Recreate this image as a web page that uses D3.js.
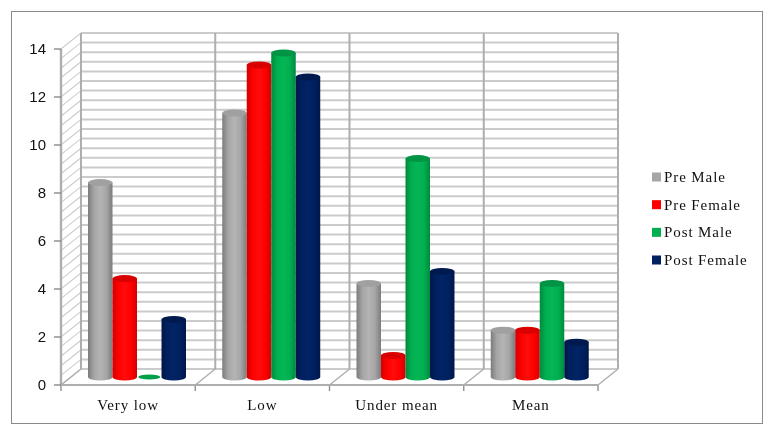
<!DOCTYPE html>
<html><head><meta charset="utf-8">
<script src="https://cdn.jsdelivr.net/npm/d3@7/dist/d3.min.js"></script>
<style>html,body{margin:0;padding:0;background:#fff}svg{display:block}</style>
</head><body><svg id="c" width="768" height="433"></svg>
<script>
const categories = ["Very low","Low","Under mean","Mean"];
const seriesNames = ["Pre Male","Pre Female","Post Male","Post Female"];
const preMale = [8.1,11,3.9,1.95];
const preFemale = [4.1,13,0.9,1.95];
const postMale = [0,13.5,9.1,3.9];
const postFemale = [2.4,12.5,4.4,1.45];
const seriesValues = [preMale,preFemale,postMale,postFemale];
const yTicks = [0,2,4,6,8,10,12,14];
const gridStep = 0.4;
const colors = [
  {base:"#a6a6a6",dark:"#7c7c7c",light:"#b4b4b4",top:"#a0a0a0"},
  {base:"#ff0000",dark:"#d40000",light:"#ff0c0c",top:"#d80000"},
  {base:"#00b050",dark:"#008a3e",light:"#06b656",top:"#009444"},
  {base:"#002060",dark:"#001848",light:"#022464",top:"#001a50"}
];
const svg = d3.select("#c");
const depth = {x:20,y:-16};
const y = d3.scaleLinear().domain([0,14]).range([385,49]);
const x = d3.scaleBand().domain(categories).range([61,598]);
const xs = d3.scaleBand().domain(seriesNames).range([27,125]);
const gridColor = "#cbcbcb", wallColor="#aeaeae";
svg.append("rect").attr("x",11.5).attr("y",11.5).attr("width",751).attr("height",412).attr("fill","#fff").attr("stroke","#8a8a8a");
const defs = svg.append("defs");
colors.forEach((c,i)=>{
  const g = defs.append("linearGradient").attr("id","g"+i);
  [[0,c.dark],[0.25,c.base],[0.5,c.light],[0.75,c.base],[1,c.dark]].forEach(s=>g.append("stop").attr("offset",s[0]).attr("stop-color",s[1]));
});
const root = svg.append("g").style("filter","blur(0.5px)");
const grid = d3.range(0,36).map(i=>i*gridStep);
const wall = root.append("g").attr("fill","none");
grid.forEach(v=>{
  wall.append("line").attr("x1",61).attr("y1",y(v)).attr("x2",61+depth.x).attr("y2",y(v)+depth.y).attr("stroke",gridColor).attr("stroke-width",1.1);
  wall.append("line").attr("x1",61+depth.x).attr("y1",y(v)+depth.y).attr("x2",598+depth.x).attr("y2",y(v)+depth.y).attr("stroke",gridColor).attr("stroke-width",2);
});
const edges = categories.map(c=>x(c)).concat([598]);
edges.forEach((e,i)=>{
  wall.append("line").attr("x1",e+depth.x).attr("y1",y(0)+depth.y).attr("x2",e+depth.x).attr("y2",y(14)+depth.y).attr("stroke",wallColor).attr("stroke-width",2);
  wall.append("line").attr("x1",e).attr("y1",y(0)).attr("x2",e+depth.x).attr("y2",y(0)+depth.y).attr("stroke",wallColor).attr("stroke-width",1.4);
  wall.append("line").attr("x1",e).attr("y1",y(0)).attr("x2",e).attr("y2",y(0)+6).attr("stroke","#909090").attr("stroke-width",1.4);
});
wall.append("line").attr("x1",61).attr("y1",y(0)).attr("x2",598).attr("y2",y(0)).attr("stroke",wallColor).attr("stroke-width",2.2);
wall.append("line").attr("x1",61).attr("y1",y(0)).attr("x2",61).attr("y2",y(14)).attr("stroke",wallColor).attr("stroke-width",2.4);
yTicks.forEach(t=>{
  wall.append("line").attr("x1",54).attr("y1",y(t)).attr("x2",61).attr("y2",y(t)).attr("stroke","#777").attr("stroke-width",1.2);
  root.append("text").attr("x",46).attr("y",y(t)+5).attr("text-anchor","end").attr("font-family","Liberation Sans").attr("font-size",15).attr("fill","#111").text(t);
});
const bars = root.append("g");
const bw = xs.bandwidth();
const ry = 3.5;
const dy = depth.y/2;
seriesNames.forEach((s,si)=>{
  categories.forEach((c,ci)=>{
    const v = seriesValues[si][ci];
    const x0 = x(c)+xs(s), yb = y(0)+dy, yt = y(v)+dy;
    const cx = x0+bw/2, rx = bw/2;
    if(v>0){
      bars.append("path")
        .attr("d",`M${x0},${yt}L${x0},${yb}A${rx},${ry} 0 0 0 ${x0+bw},${yb}L${x0+bw},${yt}Z`)
        .attr("fill",`url(#g${si})`);
    }
    bars.append("ellipse").attr("cx",cx).attr("cy",yt).attr("rx",v>0?rx:rx*0.9).attr("ry",v>0?ry:2.4).attr("fill",v>0?colors[si].top:"#00a04a");
  });
});
categories.forEach(c=>{
  root.append("text").attr("x",x(c)+x.bandwidth()/2).attr("y",410).attr("text-anchor","middle")
    .attr("font-family","Liberation Serif").attr("font-size",15).attr("letter-spacing",0.9).attr("fill","#111").text(c);
});
const legY = d3.scalePoint().domain(seriesNames).range([177,260]);
seriesNames.forEach((s,i)=>{
  root.append("rect").attr("x",652).attr("y",legY(s)-4.5).attr("width",9).attr("height",9).attr("fill",colors[i].base);
  root.append("text").attr("x",664).attr("y",legY(s)+5).attr("font-family","Liberation Serif").attr("font-size",15).attr("letter-spacing",0.9).attr("fill","#111").text(s);
});
</script></body></html>
